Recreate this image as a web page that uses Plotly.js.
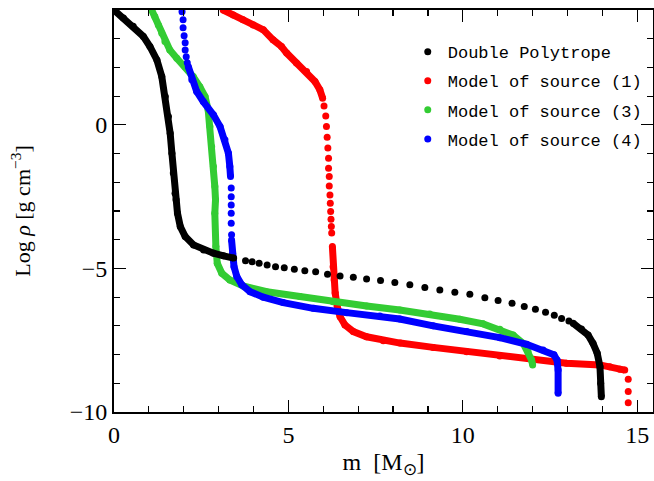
<!DOCTYPE html>
<html>
<head>
<meta charset="utf-8">
<script src="https://cdn.plot.ly/plotly-3.0.1.min.js"></script>
<style>html,body{margin:0;padding:0;background:#fff;}</style>
</head>
<body>
<div id="chart" style="width:654px;height:481px;"></div>
<script>
// ---- Double Polytrope (black) ----
const blackInnerM = [0.00,0.27,0.55,0.84,1.03,1.23,1.37,1.47,1.56,1.61,1.66,1.70,1.75,1.78,1.82,1.90,2.04,2.28,2.57,2.85,3.14,3.43];
const blackInnerL = [4.00,3.72,3.43,3.08,2.73,2.26,1.68,0.99,0.29,-0.29,-0.99,-1.68,-2.38,-2.61,-3.08,-3.54,-3.89,-4.18,-4.36,-4.47,-4.56,-4.64];
const blackDotsM = [3.77,3.96,4.16,4.39,4.63,4.88,5.17,5.47,5.78,6.12,6.48,6.86,7.24,7.64,8.05,8.48,8.91,9.34,9.77,10.20,10.63,11.01,11.41,11.76,12.08,12.37,12.62,12.83,13.04];
const blackDotsL = [-4.73,-4.77,-4.82,-4.88,-4.94,-4.98,-5.03,-5.08,-5.12,-5.20,-5.26,-5.31,-5.37,-5.42,-5.49,-5.57,-5.66,-5.75,-5.83,-5.90,-6.02,-6.12,-6.21,-6.33,-6.42,-6.53,-6.63,-6.74,-6.83];
const blackSurfM = [13.16,13.40,13.59,13.73,13.85,13.93,13.95,13.97];
const blackSurfL = [-6.91,-7.11,-7.32,-7.61,-7.95,-8.42,-9.00,-9.47];

// ---- Model of source (1) (red) ----
const redInnerM = [3.13,3.42,3.70,3.99,4.28,4.56,4.80,4.95,5.23,5.52,5.76,5.90,5.98];
const redInnerL = [4.00,3.83,3.66,3.48,3.31,2.96,2.73,2.50,2.15,1.86,1.51,1.22,0.93];
const redDotsM = [6.02,6.07,6.09,6.11,6.13,6.15,6.15,6.17,6.17,6.19,6.20,6.21,6.22,6.23,6.24];
const redDotsL = [0.66,0.31,-0.06,-0.43,-0.81,-1.16,-1.51,-1.80,-2.13,-2.44,-2.73,-3.02,-3.29,-3.54,-3.77];
const redEnvM = [6.26,6.28,6.31,6.34,6.40,6.48,6.62,6.86,7.24,7.72,8.20,9.15,10.11,11.06,12.01,12.97,13.93,14.21,14.50,14.64];
const redEnvL = [-4.24,-4.94,-5.40,-5.86,-6.33,-6.68,-6.97,-7.20,-7.38,-7.52,-7.60,-7.75,-7.90,-8.05,-8.19,-8.30,-8.36,-8.42,-8.51,-8.54];
const redTailM = [14.74,14.74,14.74];
const redTailL = [-8.86,-9.29,-9.68];

// ---- Model of source (3) (green) ----
const greenM = [1.08,1.17,1.27,1.37,1.46,1.60,1.80,2.03,2.27,2.46,2.61,2.70,2.75,2.80,2.85,2.89,2.91,2.89,2.92,2.96,3.09,3.32,3.70,4.38,5.33,6.28,7.24,8.19,9.05,9.91,10.58,11.06,11.44,11.73,11.87,11.97,12.00];
const greenL = [4.00,3.77,3.48,3.19,2.90,2.61,2.32,2.03,1.68,1.33,0.99,0.52,-0.06,-0.76,-1.45,-2.15,-2.61,-3.08,-4.24,-4.82,-5.17,-5.40,-5.61,-5.81,-5.98,-6.16,-6.31,-6.45,-6.59,-6.77,-6.93,-7.12,-7.32,-7.61,-7.90,-8.19,-8.36];

// ---- Model of source (4) (blue) ----
const blueTopM = [1.95,1.98,1.98,2.01,2.04,2.04,2.07,2.10];
const blueTopL = [3.94,3.66,3.38,3.10,2.86,2.61,2.37,2.16];
const blueCoreM = [2.13,2.23,2.37,2.56,2.85,3.04,3.18,3.28,3.32,3.34];
const blueCoreL = [2.03,1.57,1.16,0.81,0.35,-0.06,-0.52,-0.99,-1.45,-1.80];
const blueMidM = [3.36,3.36,3.36,3.36,3.36,3.37];
const blueMidL = [-2.20,-2.50,-2.79,-3.08,-3.43,-3.83];
const blueEnvM = [3.37,3.40,3.44,3.52,3.66,3.90,4.28,4.85,5.71,6.67,7.62,8.19,9.15,10.11,11.06,11.83,12.30,12.61,12.70,12.73,12.73];
const blueEnvL = [-4.01,-4.47,-4.94,-5.28,-5.57,-5.81,-6.00,-6.19,-6.39,-6.54,-6.66,-6.76,-7.00,-7.20,-7.41,-7.64,-7.84,-8.01,-8.19,-8.54,-9.35];

const names = ['Double Polytrope','Model of source (1)','Model of source (3)','Model of source (4)'];
const colors = ['#000000','#ff0000','#33cc33','#0000ff'];

const DOT = 7;
function lineTrace(x, y, color, group) {
  return {x:x, y:y, type:'scatter', mode:'lines', line:{color:color, width:DOT},
          showlegend:false, legendgroup:group, hoverinfo:'skip'};
}
function dotTrace(x, y, color, name, group, rank) {
  return {x:x, y:y, type:'scatter', mode:'markers', marker:{color:color, size:DOT},
          name:name, legendgroup:group, legendrank:rank, showlegend:true};
}
const cat = (...a) => [].concat(...a);

const data = [
  // red (1)
  lineTrace(cat(redInnerM,[null],redEnvM), cat(redInnerL,[null],redEnvL), colors[1], 'g1'),
  dotTrace(cat(redInnerM,redDotsM,redEnvM,redTailM), cat(redInnerL,redDotsL,redEnvL,redTailL), colors[1], names[1], 'g1', 2),
  // green (3)
  lineTrace(greenM, greenL, colors[2], 'g3'),
  dotTrace(greenM, greenL, colors[2], names[2], 'g3', 3),
  // blue (4)
  lineTrace(cat(blueCoreM,[null],blueEnvM), cat(blueCoreL,[null],blueEnvL), colors[3], 'g4'),
  dotTrace(cat(blueTopM,blueCoreM,blueMidM,blueEnvM), cat(blueTopL,blueCoreL,blueMidL,blueEnvL), colors[3], names[3], 'g4', 4),
  // black
  lineTrace(cat(blackInnerM,[null],blackSurfM), cat(blackInnerL,[null],blackSurfL), colors[0], 'g0'),
  dotTrace(cat(blackInnerM,blackDotsM,blackSurfM), cat(blackInnerL,blackDotsL,blackSurfL), colors[0], names[0], 'g0', 1)
];

const serif = 'Liberation Serif, Times New Roman, serif';
const axisCommon = {
  showline:true, linecolor:'#000', linewidth:2, mirror:'allticks',
  ticks:'inside', ticklen:12, tickwidth:1.2, tickcolor:'#000',
  showgrid:false, zeroline:false,
  tickfont:{family:serif, size:24, color:'#000'},
  minor:{ticks:'inside', ticklen:6, tickwidth:1.2, tickcolor:'#000', dtick:1, showgrid:false}
};

const layout = {
  width:654, height:481,
  margin:{l:114, r:1, t:10, b:69},
  paper_bgcolor:'#fff', plot_bgcolor:'#fff',
  showlegend:true,
  legend:{x:0.545, y:0.94, xanchor:'left', yanchor:'top', traceorder:'grouped', tracegroupgap:4,
          font:{family:'Liberation Mono, Courier New, monospace', size:17, color:'#000'},
          bgcolor:'rgba(0,0,0,0)', borderwidth:0},
  xaxis:Object.assign({}, axisCommon, {range:[0,15.45], tick0:0, dtick:5,
          title:{text:'m  [M<sub>⊙</sub>]', font:{family:serif, size:24, color:'#000'}, standoff:6}}),
  yaxis:Object.assign({}, axisCommon, {range:[-10,4], tick0:0, dtick:5,
          title:{text:'Log <i>ρ</i> [g cm<sup>−3</sup>]', font:{family:serif, size:22, color:'#000'}, standoff:33}})
};

Plotly.newPlot('chart', data, layout, {displayModeBar:false, staticPlot:true});
</script>
</body>
</html>
